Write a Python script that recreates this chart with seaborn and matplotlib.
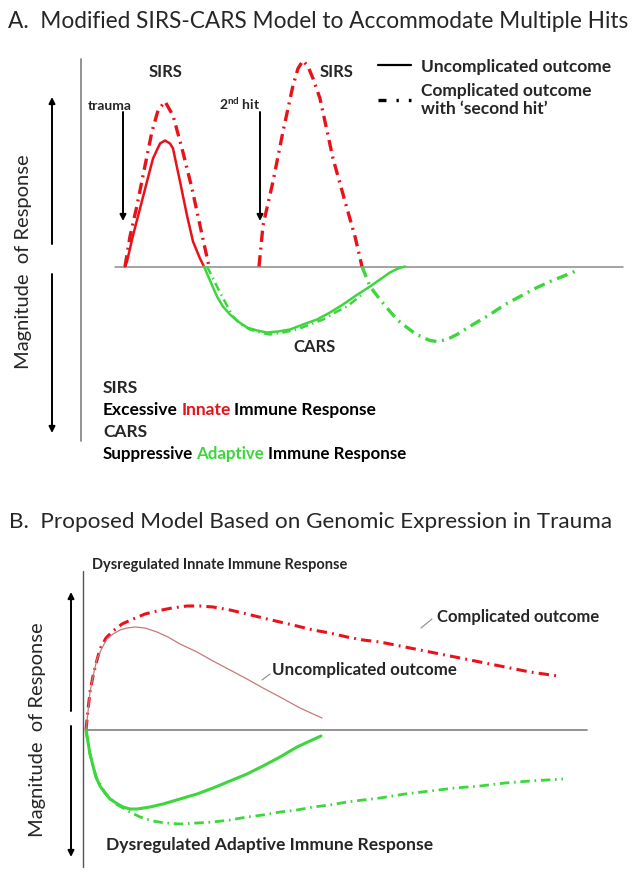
import numpy as np
import pandas as pd
import seaborn as sns
import matplotlib.pyplot as plt
from matplotlib.lines import Line2D

sns.set_theme(style="white")
plt.rcParams['font.family'] = ['Lato', 'DejaVu Sans']
plt.rcParams['mathtext.fontset'] = 'custom'
plt.rcParams['mathtext.rm'] = 'Lato'
plt.rcParams['mathtext.bf'] = 'Lato:bold'

W, H = 639, 887
RED = '#e8121b'
GREEN = '#3dd63d'
ROSE = '#c47a7a'
GREY = '#8a8a8a'
DASHDOT = (0, (3.4, 1.7, 0.6, 1.7))

# --- panel A : time (px) vs magnitude of response (px above baseline) ---
a_sirs_x = [125, 127, 133, 140, 147, 153, 160, 165, 170, 173, 180, 187, 193, 200, 204]
a_sirs_y = [0, 5, 31, 58, 85, 108, 123, 126, 123, 118, 85, 51, 25, 8, 0]
a_sirs_hit1_x = [125, 130, 137, 143, 152, 158, 165, 173, 182, 192, 200, 209]
a_sirs_hit1_y = [0, 30, 61, 91, 135, 156, 165, 151, 118, 78, 41, 0]
a_sirs_hit2_x = [259, 263, 268, 273, 283, 293, 298, 303, 308, 313, 320, 333, 347, 355, 362]
a_sirs_hit2_y = [0, 41, 63, 85, 135, 181, 198, 206, 200, 188, 168, 108, 58, 30, 0]
a_cars_x = [204, 210, 217, 223, 230, 238, 247, 257, 267, 278, 290, 303, 317, 330, 343,
            356, 370, 380, 390, 398, 405]
a_cars_y = [0, -14, -30, -40, -48, -55, -61, -64, -66, -65, -63, -58, -53, -46, -38,
            -29, -20, -13, -6, -2, 0]
a_cars_hit1_x = [207, 213, 220, 227, 233, 241, 250, 260, 270, 283, 297, 310, 323, 335, 347, 362]
a_cars_hit1_y = [0, -12, -26, -39, -50, -58, -63, -66, -68, -66, -63, -58, -53, -46, -40, -28]
a_cars_hit2_x = [362, 366, 370, 380, 390, 398, 407, 415, 423, 430, 437, 447, 457, 473,
                 490, 505, 520, 535, 550, 565, 577]
a_cars_hit2_y = [0, -10, -20, -33, -45, -54, -61, -67, -71, -74, -75, -73, -68, -58,
                 -48, -38, -30, -22, -15, -9, -4]

# --- panel B ---
b_innate_comp_x = [86, 88, 90, 93, 97, 100, 106, 113, 122, 133, 145, 157, 172, 187, 200, 213,
                   230, 247, 263, 280, 297, 313, 330, 347, 363, 380, 405, 430, 455, 480, 505, 530, 558]
b_innate_comp_y = [0, 20, 38, 54, 70, 81, 92, 99, 106, 111, 116, 119, 122, 124, 124, 123,
                   120, 116, 112, 108, 104, 100, 97, 93, 90, 88, 83, 78, 73, 68, 63, 58, 54]
b_innate_unc_x = [86, 88, 90, 94, 97, 102, 107, 113, 120, 127, 135, 145, 157, 168, 180, 197,
                  213, 230, 247, 263, 280, 300, 322]
b_innate_unc_y = [0, 18, 38, 58, 71, 82, 91, 96, 100, 102, 103, 102, 98, 93, 86, 78,
                  69, 60, 51, 42, 33, 22, 12]
b_adapt_unc_x = [86, 88, 90, 93, 96, 100, 105, 110, 116, 123, 130, 137, 150, 163, 180, 197,
                 213, 230, 247, 263, 280, 297, 310, 321]
b_adapt_unc_y = [0, -12, -24, -36, -47, -56, -63, -69, -73, -77, -79, -79, -77, -74, -69, -64,
                 -58, -51, -44, -36, -27, -17, -11, -6]
b_adapt_comp_x = [86, 90, 96, 105, 116, 130, 140, 153, 165, 180, 197, 213, 230, 247, 263, 280,
                  297, 313, 330, 347, 363, 380, 405, 430, 455, 480, 505, 530, 563]
b_adapt_comp_y = [0, -24, -47, -63, -74, -82, -87, -91, -93, -94, -93, -92, -90, -87, -85, -82,
                  -80, -77, -75, -72, -70, -68, -64, -61, -58, -56, -53, -51, -49]

fig = plt.figure(figsize=(W / 100, H / 100), dpi=100)


def panel(top, bottom, base):
    ax = fig.add_axes([0, 1 - bottom / H, 1, (bottom - top) / H])
    ax.set_xlim(0, W)
    ax.set_ylim(base - bottom, base - top)
    ax.axis('off')
    return ax


def curve(ax, xs, ys, color, lw, ls='-'):
    sns.lineplot(x=xs, y=ys, ax=ax, color=color, linewidth=lw, linestyle=ls,
                 errorbar=None, solid_capstyle='round')


def arrow(ax, x, y0, y1):
    ax.annotate('', xy=(x, y1), xytext=(x, y0),
                arrowprops=dict(arrowstyle='-|>', color='black', lw=1.4, mutation_scale=9,
                                shrinkA=0, shrinkB=0))


def mixed(ax, x, y, parts, size):
    # parts: list of (text, colour) drawn one after another on one line
    t = ax.text(x, y, parts[0][0], color=parts[0][1], fontsize=size,
                fontweight='bold', va='center')
    for txt, col in parts[1:]:
        t = ax.annotate(txt, xy=(1, 0), xycoords=t, xytext=(2.4, 0),
                        textcoords='offset points', fontsize=size, fontweight='bold',
                        color=col, va='bottom')


# ================= PANEL A =================
baseA = 267.5
axA = panel(40, 470, baseA)
axA.plot([81, 81], [baseA - 60, baseA - 442], color=GREY, lw=1.3)
axA.plot([115, 623], [0, 0], color=GREY, lw=1.1)

curve(axA, a_sirs_hit1_x, a_sirs_hit1_y, RED, 2.4, DASHDOT)
curve(axA, a_sirs_hit2_x, a_sirs_hit2_y, RED, 2.4, DASHDOT)
curve(axA, a_sirs_x, a_sirs_y, RED, 1.8)
curve(axA, a_cars_hit1_x, a_cars_hit1_y, GREEN, 1.8, DASHDOT)
curve(axA, a_cars_hit2_x, a_cars_hit2_y, GREEN, 2.4, DASHDOT)
curve(axA, a_cars_x, a_cars_y, GREEN, 1.8)

# event arrows
arrow(axA, 123, baseA - 113, baseA - 222)
arrow(axA, 260, baseA - 113, baseA - 222)
axA.text(110, baseA - 106, 'trauma', fontsize=10, fontweight='bold', ha='center', va='center')
axA.text(240, baseA - 104, r'2$^{\mathbf{nd}}$ hit', fontsize=10, fontweight='bold',
         ha='center', va='center')
axA.text(166, baseA - 72, 'SIRS', fontsize=12, fontweight='bold', ha='center', va='center')
axA.text(337, baseA - 72, 'SIRS', fontsize=12, fontweight='bold', ha='center', va='center')
axA.text(314, baseA - 347, 'CARS', fontsize=12, fontweight='bold', ha='center', va='center')

# magnitude arrows
arrow(axA, 52, baseA - 245, baseA - 98)
arrow(axA, 52, baseA - 275, baseA - 434)
axA.text(24, baseA - 262, 'Magnitude  of Response', fontsize=14.5, rotation=90,
         ha='center', va='center')

# legend
handles = [Line2D([], [], color='black', lw=1.6),
           Line2D([], [], color='black', lw=2.4, linestyle=(0, (2.4, 3.0, 0.7, 3.0)))]
axA.legend(handles, ['Uncomplicated outcome', 'Complicated outcome\nwith \u2018second hit\u2019'],
           loc='upper left', bbox_to_anchor=(378 / W, 1 - 19 / 430), frameon=False,
           prop=dict(weight='bold', size=12.5), handlelength=1.9, handletextpad=0.6,
           labelspacing=0.45, borderaxespad=0, borderpad=0)

# explanatory text block
axA.text(103, baseA - 388, 'SIRS', fontsize=12.5, fontweight='bold', va='center')
mixed(axA, 103, baseA - 410,
      [('Excessive', 'black'), ('Innate', RED), ('Immune Response', 'black')], 12.5)
axA.text(103, baseA - 432, 'CARS', fontsize=12.5, fontweight='bold', va='center')
mixed(axA, 103, baseA - 454,
      [('Suppressive', 'black'), ('Adaptive', GREEN), ('Immune Response', 'black')], 12.2)

# ================= PANEL B =================
baseB = 731
axB = panel(480, 887, baseB)
axB.plot([83, 83], [baseB - 572, baseB - 868], color='#555555', lw=1.0)
axB.plot([86, 587], [0, 0], color=GREY, lw=1.3)

curve(axB, b_innate_comp_x, b_innate_comp_y, RED, 2.2, DASHDOT)
curve(axB, b_innate_unc_x, b_innate_unc_y, ROSE, 0.9)
curve(axB, b_adapt_comp_x, b_adapt_comp_y, GREEN, 2.0, DASHDOT)
curve(axB, b_adapt_unc_x, b_adapt_unc_y, GREEN, 2.2)

arrow(axB, 71, baseB - 712, baseB - 593)
arrow(axB, 71, baseB - 727, baseB - 858)
axB.text(38, baseB - 730, 'Magnitude  of Response', fontsize=14.5, rotation=90,
         ha='center', va='center')

axB.text(92, baseB - 565, 'Dysregulated Innate Immune Response', fontsize=10.5,
         fontweight='bold', va='center')
axB.text(106, baseB - 845, 'Dysregulated Adaptive Immune Response', fontsize=12.6,
         fontweight='bold', va='center')
axB.text(437, baseB - 617, 'Complicated outcome', fontsize=12, fontweight='bold', va='center')
axB.text(272, baseB - 670, 'Uncomplicated outcome', fontsize=12.2, fontweight='bold', va='center')
axB.annotate('', xy=(421, baseB - 629), xytext=(432, baseB - 620),
             arrowprops=dict(arrowstyle='-', color=GREY, lw=0.8, shrinkA=0, shrinkB=0))
axB.annotate('', xy=(262, baseB - 681), xytext=(270, baseB - 675),
             arrowprops=dict(arrowstyle='-', color=GREY, lw=0.8, shrinkA=0, shrinkB=0))

# titles
fig.text(8 / W, 1 - 22 / H, 'A.  Modified SIRS-CARS Model to Accommodate Multiple Hits',
         fontsize=16.3, va='center', ha='left')
fig.text(9 / W, 1 - 522 / H, 'B.  Proposed Model Based on Genomic Expression in Trauma',
         fontsize=16.2, va='center', ha='left')

fig.savefig('out.png', dpi=100)
